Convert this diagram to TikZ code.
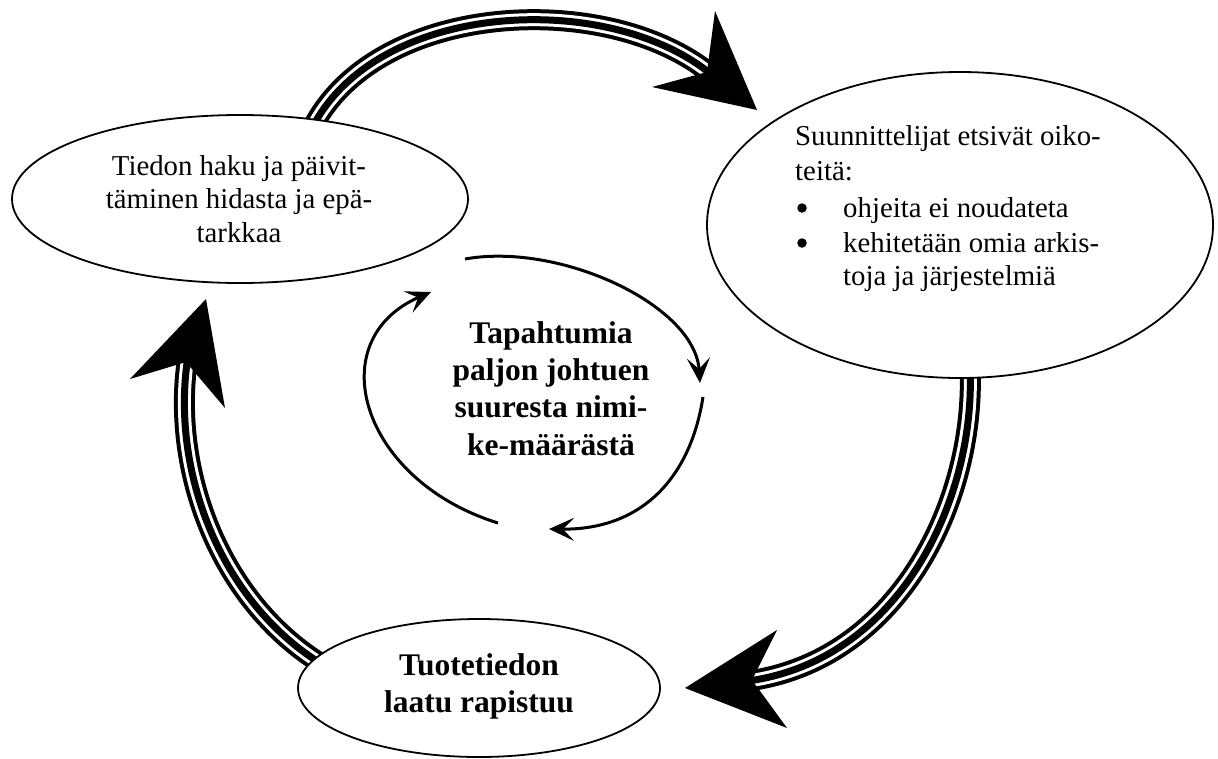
\documentclass[tikz,border=0pt]{standalone}
\usepackage{fontspec}
\setmainfont{Liberation Serif}
\usetikzlibrary{arrows.meta,calc,shapes.geometric}

\newcommand{\plainsize}{\fontsize{28.8}{34}\selectfont}
\newcommand{\boldsize}{\fontsize{31.5}{37}\selectfont\bfseries}

\begin{document}
\begin{tikzpicture}[x=1pt,y=-1pt,
  bubble/.style={ellipse, draw=black, line width=1.8pt, fill=white, inner sep=0pt},
  txt/.style={inner sep=0pt, font=\plainsize},
  btxt/.style={inner sep=0pt, font=\boldsize},
  dot/.style={circle, fill=black, inner sep=0pt, minimum size=9.5pt},
  band/.style={line width=21pt, draw=black,
    postaction={draw=white, line width=13pt},
    postaction={draw=black, line width=7pt}},
  bighead/.style={fill=black},
  loop/.style={line width=3pt, draw=black,
    -{Stealth[length=25pt,width=23pt,inset=11pt]}}
]
\useasboundingbox (0,0) rectangle (1218,758);

% the three statements of the cycle (shapes only; drawn again on top later)
\path (240,199) node[ellipse, minimum width=456pt, minimum height=168pt, inner sep=0pt] (L) {};
\path (960,225) node[ellipse, minimum width=506pt, minimum height=306pt, inner sep=0pt] (R) {};
\path (479,688) node[ellipse, minimum width=362pt, minimum height=138pt, inner sep=0pt] (B) {};

% arrowhead notches where the triple bands end
\coordinate (h1) at (712,75);
\coordinate (h2) at (748,681);
\coordinate (h3) at (188,356);

% triple-line bands between the statements
\draw[band] ($(L.45)!8pt!(L.center)$) .. controls (380,0) and (610,-10) .. (h1);
\draw[band] ($(R.-86)!8pt!(R.center)$) .. controls (975,500) and (900,660) .. (h2);
\draw[band] ($(B.171)!8pt!(B.center)$) .. controls (220,600) and (170,470) .. (h3);

% large arrowheads
\fill[bighead] (757,110) -- (715,11) -- (707,72) -- (652,87) -- cycle;
\fill[bighead] (685,688) -- (777,630) -- (752,680) -- (787,728) -- cycle;
\fill[bighead] (206,299) -- (130,379) -- (186,362) -- (225,408) -- cycle;

% ellipses drawn over the band ends
\node[bubble, minimum width=456pt, minimum height=168pt] (Lb) at (L.center) {};
\node[bubble, minimum width=506pt, minimum height=306pt] (Rb) at (R.center) {};
\node[bubble, minimum width=362pt, minimum height=138pt] (Bb) at (B.center) {};

% left statement
\node[txt, anchor=base] (l1) at (239,175) {Tiedon haku ja päivit-};
\node[txt, anchor=base] (l2) at (239,208) {täminen hidasta ja epä-};
\node[txt, anchor=base] (l3) at (239,242) {tarkkaa};

% right statement
\node[txt, anchor=base west] (r1) at (795,145) {Suunnittelijat etsivät oiko-};
\node[txt, anchor=base west] (r2) at (795,180) {teitä:};
\node[dot] (rb1) at (802,208) {};
\node[txt, anchor=base west] (r3) at (843,217) {ohjeita ei noudateta};
\node[dot] (rb2) at (802,243) {};
\node[txt, anchor=base west] (r4) at (843,252) {kehitetään omia arkis-};
\node[txt, anchor=base west] (r5) at (843,285) {toja ja järjestelmiä};

% bottom statement
\node[btxt, anchor=base] (b1) at (479,675) {Tuotetiedon};
\node[btxt, anchor=base] (b2) at (479,712) {laatu rapistuu};

% centre: the inner loop
\node[btxt, anchor=base] (c1) at (551,343) {Tapahtumia};
\node[btxt, anchor=base] (c2) at (551,380) {paljon johtuen};
\node[btxt, anchor=base] (c3) at (551,417) {suuresta nimi-};
\node[btxt, anchor=base] (c4) at (551,455) {ke-määrästä};

\coordinate (i1s) at (465,259);
\coordinate (i1e) at (700,383);
\coordinate (i2s) at (703,397);
\coordinate (i2e) at (549,529);
\coordinate (i3s) at (498,523);
\coordinate (i3e) at (431,292);

\draw[loop] (i1s) .. controls (560,242) and (695,305) .. (i1e);
\draw[loop] (i2s) .. controls (690,480) and (640,530) .. (i2e);
\draw[loop] (i3s) .. controls (360,480) and (320,340) .. (i3e);
\end{tikzpicture}
\end{document}
